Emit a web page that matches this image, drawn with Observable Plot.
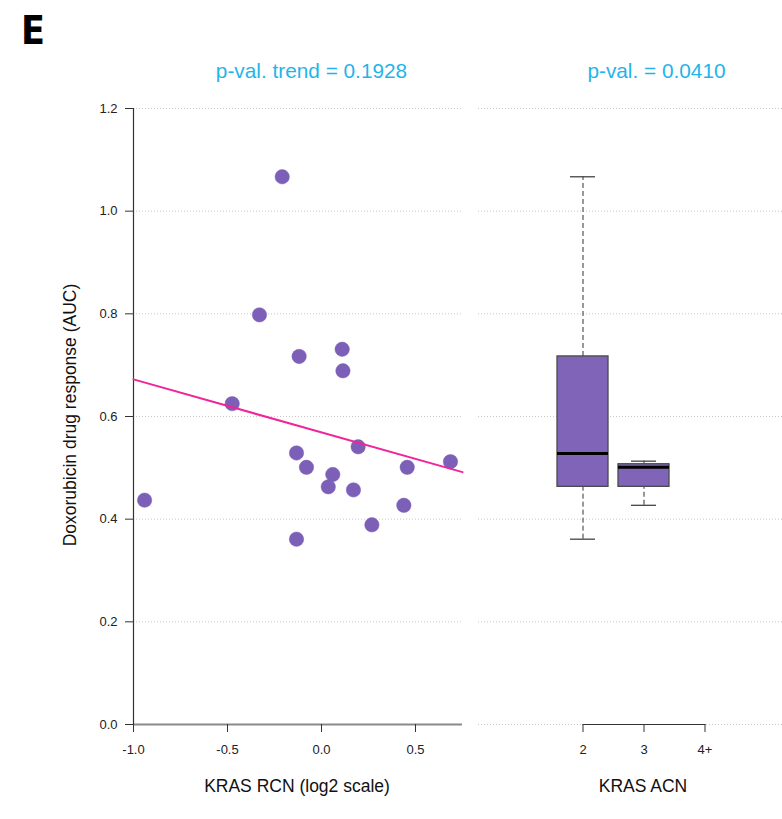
<!DOCTYPE html>
<html>
<head>
<meta charset="utf-8">
<script src="https://cdn.jsdelivr.net/npm/d3@7"></script>
<script src="https://cdn.jsdelivr.net/npm/@observablehq/plot@0.6"></script>
<style>
  html, body { margin: 0; padding: 0; background: #fff; }
  #wrap { position: relative; width: 782px; height: 819px; overflow: hidden; background: #fff; }
  #wrap > svg, #wrap > figure { position: absolute; top: 0; margin: 0; }
</style>
</head>
<body>
<div id="wrap"></div>
<script>
// ---------------- data ----------------
const rcn = [-0.209, -0.330, -0.119, 0.110, 0.114, -0.475, -0.133, -0.080, 0.060, 0.036, 0.170, 0.195, 0.456, 0.686, 0.438, 0.268, -0.133, -0.941];
const auc = [1.067, 0.798, 0.717, 0.731, 0.689, 0.625, 0.529, 0.501, 0.487, 0.463, 0.457, 0.541, 0.501, 0.512, 0.427, 0.389, 0.361, 0.437];

const acnLevels = ["2", "3", "4+"];
const boxGroups = ["2", "3"];
const boxMin    = [0.361, 0.427];
const boxQ1     = [0.463, 0.463];
const boxMedian = [0.528, 0.501];
const boxQ3     = [0.717, 0.507];
const boxMax    = [1.067, 0.513];

const yTicks = [0, 0.2, 0.4, 0.6, 0.8, 1.0, 1.2];
const xTicks = [-1.0, -0.5, 0.0, 0.5];
const xDomain = [-1.0, 0.75];
const yDomain = [0, 1.2];

const titleLeft = "p-val. trend = 0.1928";
const titleRight = "p-val. = 0.0410";
const xLabelLeft = "KRAS RCN (log2 scale)";
const xLabelRight = "KRAS ACN";
const yLabel = "Doxorubicin drug response (AUC)";
const panelTag = "E";

// ---------------- derived ----------------
const points = rcn.map((x, i) => ({x, y: auc[i]}));
const mx = d3.mean(rcn), my = d3.mean(auc);
const sxy = d3.sum(points, p => (p.x - mx) * (p.y - my));
const sxx = d3.sum(points, p => (p.x - mx) ** 2);
const slope = sxy / sxx, intercept = my - slope * mx;
const fitLine = xDomain.map(x => ({x, y: intercept + slope * x}));

const boxes = boxGroups.map((g, i) => ({
  group: g, min: boxMin[i], q1: boxQ1[i], median: boxMedian[i], q3: boxQ3[i], max: boxMax[i]
}));

// ---------------- style ----------------
const purple = "#7c5fb6";
const pink = "#f1259a";
const cyan = "#1fb5ea";
const font = "'Liberation Sans', Arial, Helvetica, sans-serif";
const fmt = d => d.toFixed(1);

const W = 782, H = 819;
const mTop = 108, mBottom = 95;

// ---------------- left panel ----------------
const left = Plot.plot({
  width: 470, height: H,
  marginTop: mTop, marginBottom: mBottom, marginLeft: 133, marginRight: 8,
  style: {fontFamily: font, fontSize: "13px", color: "#222", background: "transparent", overflow: "visible"},
  x: {domain: xDomain, label: null},
  y: {domain: yDomain, label: null},
  marks: [
    Plot.gridY(yTicks.filter(d => d > 0), {stroke: "#c8c8c8", strokeOpacity: 1, strokeDasharray: "1,2"}),
    Plot.ruleY([0], {stroke: "#8a8a8a", strokeWidth: 2}),
    Plot.ruleX([xDomain[0]], {y1: yDomain[0], y2: yDomain[1], stroke: "#333", strokeWidth: 1.2}),
    Plot.axisY({ticks: yTicks, tickFormat: fmt, tickSize: 8, tickPadding: 8, label: null, stroke: "#333", fontSize: 13}),
    Plot.axisX({ticks: xTicks, tickFormat: fmt, tickSize: 8, tickPadding: 12, label: null, stroke: "#333", fontSize: 13}),
    Plot.dot(points, {x: "x", y: "y", r: 7.2, fill: purple, stroke: purple, strokeWidth: 0.5}),
    Plot.line(fitLine, {x: "x", y: "y", stroke: pink, strokeWidth: 2})
  ]
});
left.style.left = "0px";

// ---------------- right panel ----------------
const step = 61, bw = 51;
const r0 = 87;
const right = Plot.plot({
  width: 312, height: H,
  marginTop: mTop, marginBottom: mBottom, marginLeft: 8, marginRight: 0,
  style: {fontFamily: font, fontSize: "13px", color: "#222", background: "transparent", overflow: "visible"},
  x: {type: "band", domain: acnLevels, range: [r0, r0 + step * (acnLevels.length - (step - bw) / step)],
      paddingInner: (step - bw) / step, paddingOuter: 0, align: 0.5, round: false, label: null},
  y: {domain: yDomain, label: null, axis: null},
  marks: [
    Plot.gridY(yTicks, {stroke: "#c8c8c8", strokeOpacity: 1, strokeDasharray: "1,2"}),
    Plot.line(acnLevels, {x: d => d, y: () => 0, stroke: "#333", strokeWidth: 1.2}),
    Plot.axisX({tickSize: 8, tickPadding: 12, label: null, stroke: "#333", fontSize: 13}),
    Plot.ruleX(boxes, {x: "group", y1: "q3", y2: "max", stroke: "#333", strokeDasharray: "5,3"}),
    Plot.ruleX(boxes, {x: "group", y1: "min", y2: "q1", stroke: "#333", strokeDasharray: "5,3"}),
    Plot.tickY(boxes, {x: "group", y: "max", insetLeft: 13, insetRight: 13, stroke: "#444", strokeWidth: 1.3}),
    Plot.tickY(boxes, {x: "group", y: "min", insetLeft: 13, insetRight: 13, stroke: "#444", strokeWidth: 1.3}),
    Plot.barY(boxes, {x: "group", y1: "q1", y2: "q3", fill: "#8064b7", stroke: "#4a4a4a", strokeWidth: 1.3}),
    Plot.tickY(boxes, {x: "group", y: "median", stroke: "#000", strokeWidth: 3})
  ]
});
right.style.left = "470px";

const wrap = document.getElementById("wrap");
wrap.appendChild(left);
wrap.appendChild(right);

// ---------------- text overlay ----------------
const ov = d3.select(wrap).append("svg")
  .attr("width", W).attr("height", H)
  .style("left", "0px").style("pointer-events", "none")
  .style("font-family", font);

ov.append("text").text(panelTag)
  .attr("x", 21).attr("y", 44)
  .style("font-family", "'DejaVu Sans Condensed', 'DejaVu Sans', sans-serif")
  .style("font-stretch", "condensed")
  .style("font-weight", "bold").style("font-size", "39px").attr("fill", "#000");

ov.append("text").text(titleLeft)
  .attr("x", 311.5).attr("y", 78).attr("text-anchor", "middle")
  .style("font-size", "20.8px").attr("fill", cyan);
ov.append("text").text(titleRight)
  .attr("x", 656.5).attr("y", 78).attr("text-anchor", "middle")
  .style("font-size", "20.8px").attr("fill", cyan);

ov.append("text").text(xLabelLeft)
  .attr("x", 297).attr("y", 792).attr("text-anchor", "middle")
  .style("font-size", "17.5px").attr("fill", "#111");
ov.append("text").text(xLabelRight)
  .attr("x", 643).attr("y", 792).attr("text-anchor", "middle")
  .style("font-size", "17.5px").attr("fill", "#111");

ov.append("text").text(yLabel)
  .attr("transform", "translate(76,415) rotate(-90)")
  .attr("text-anchor", "middle")
  .style("font-size", "17.5px").attr("fill", "#111");
</script>
</body>
</html>
